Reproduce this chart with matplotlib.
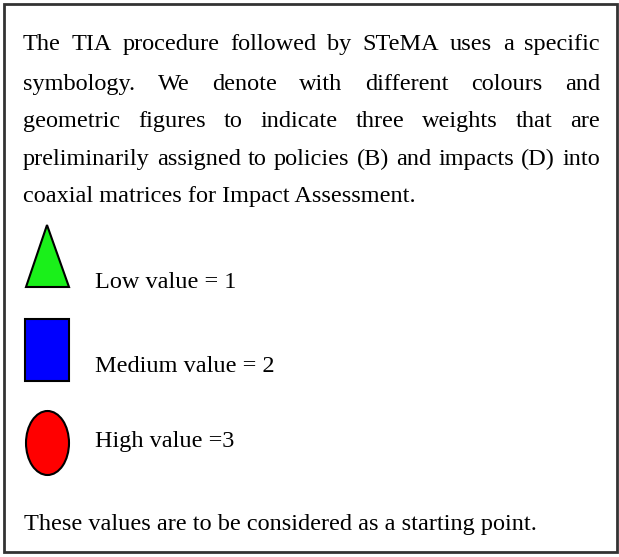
"""
TIA symbology box: text paragraph plus three weight symbols
"""

import matplotlib
matplotlib.use('Agg')
import matplotlib.pyplot as plt
import matplotlib.patches as mpatches

FONT = 'Liberation Serif'

# Paragraph lines (justified except the last)
intro_lines = [
    'The TIA procedure followed by STeMA uses a specific',
    'symbology. We denote with different colours and',
    'geometric figures to indicate three weights that are',
    'preliminarily assigned to policies (B) and impacts (D) into',
    'coaxial matrices for Impact Assessment.',
]
closing_line = 'These values are to be considered as a starting point.'

# Weight symbols
shapes = ['triangle', 'square', 'circle']
shape_colors = ['#1AF01A', '#0000FF', '#FF0000']
labels = ['Low value = 1', 'Medium value = 2', 'High value =3']

fig = plt.figure(figsize=(6.19, 5.57), dpi=100)
ax = fig.add_axes([0, 0, 1, 1])
ax.set_xlim(0, 619)
ax.set_ylim(557, 0)
ax.axis('off')
renderer = fig.canvas.get_renderer()


def width_of(s, size):
    t = ax.text(0, 0, s, fontsize=size, family=FONT)
    w = t.get_window_extent(renderer).width
    t.remove()
    return w


# pick a font size so the closing line is about as wide as in the original
fs = 20 * 512 / width_of(closing_line, 20)

# border
ax.add_patch(mpatches.Rectangle((4, 4), 613, 548, fill=False,
                                edgecolor='#333333', linewidth=2))

# paragraph
left, right = 23, 600
baselines = [50, 90, 127, 165, 202]
for i, (line, yb) in enumerate(zip(intro_lines, baselines)):
    if i == len(intro_lines) - 1:
        ax.text(left, yb, line, fontsize=fs, family=FONT, va='baseline')
        continue
    words = line.split()
    widths = [width_of(w, fs) for w in words]
    gap = (right - left - sum(widths)) / (len(words) - 1)
    x = left
    for w, wd in zip(words, widths):
        ax.text(x, yb, w, fontsize=fs, family=FONT, va='baseline')
        x += wd + gap

# symbols
sym_y = [256, 350, 443]
label_base = [288, 372, 447]
for shp, col, lab, yc, yb in zip(shapes, shape_colors, labels, sym_y, label_base):
    if shp == 'triangle':
        p = mpatches.Polygon([(26, 287), (47, 225), (69, 287)], closed=True,
                             facecolor=col, edgecolor='black', linewidth=1.5)
    elif shp == 'square':
        p = mpatches.Rectangle((25, 319), 44, 62, facecolor=col,
                               edgecolor='black', linewidth=1.5)
    else:
        p = mpatches.Ellipse((47.5, 443), 43, 64, facecolor=col,
                             edgecolor='black', linewidth=1.5)
    ax.add_patch(p)
    ax.text(95, yb, lab, fontsize=fs, family=FONT, va='baseline')

ax.text(24, 530, closing_line, fontsize=fs, family=FONT, va='baseline')

fig.savefig('out.png', dpi=100, facecolor='white')
plt.close(fig)
